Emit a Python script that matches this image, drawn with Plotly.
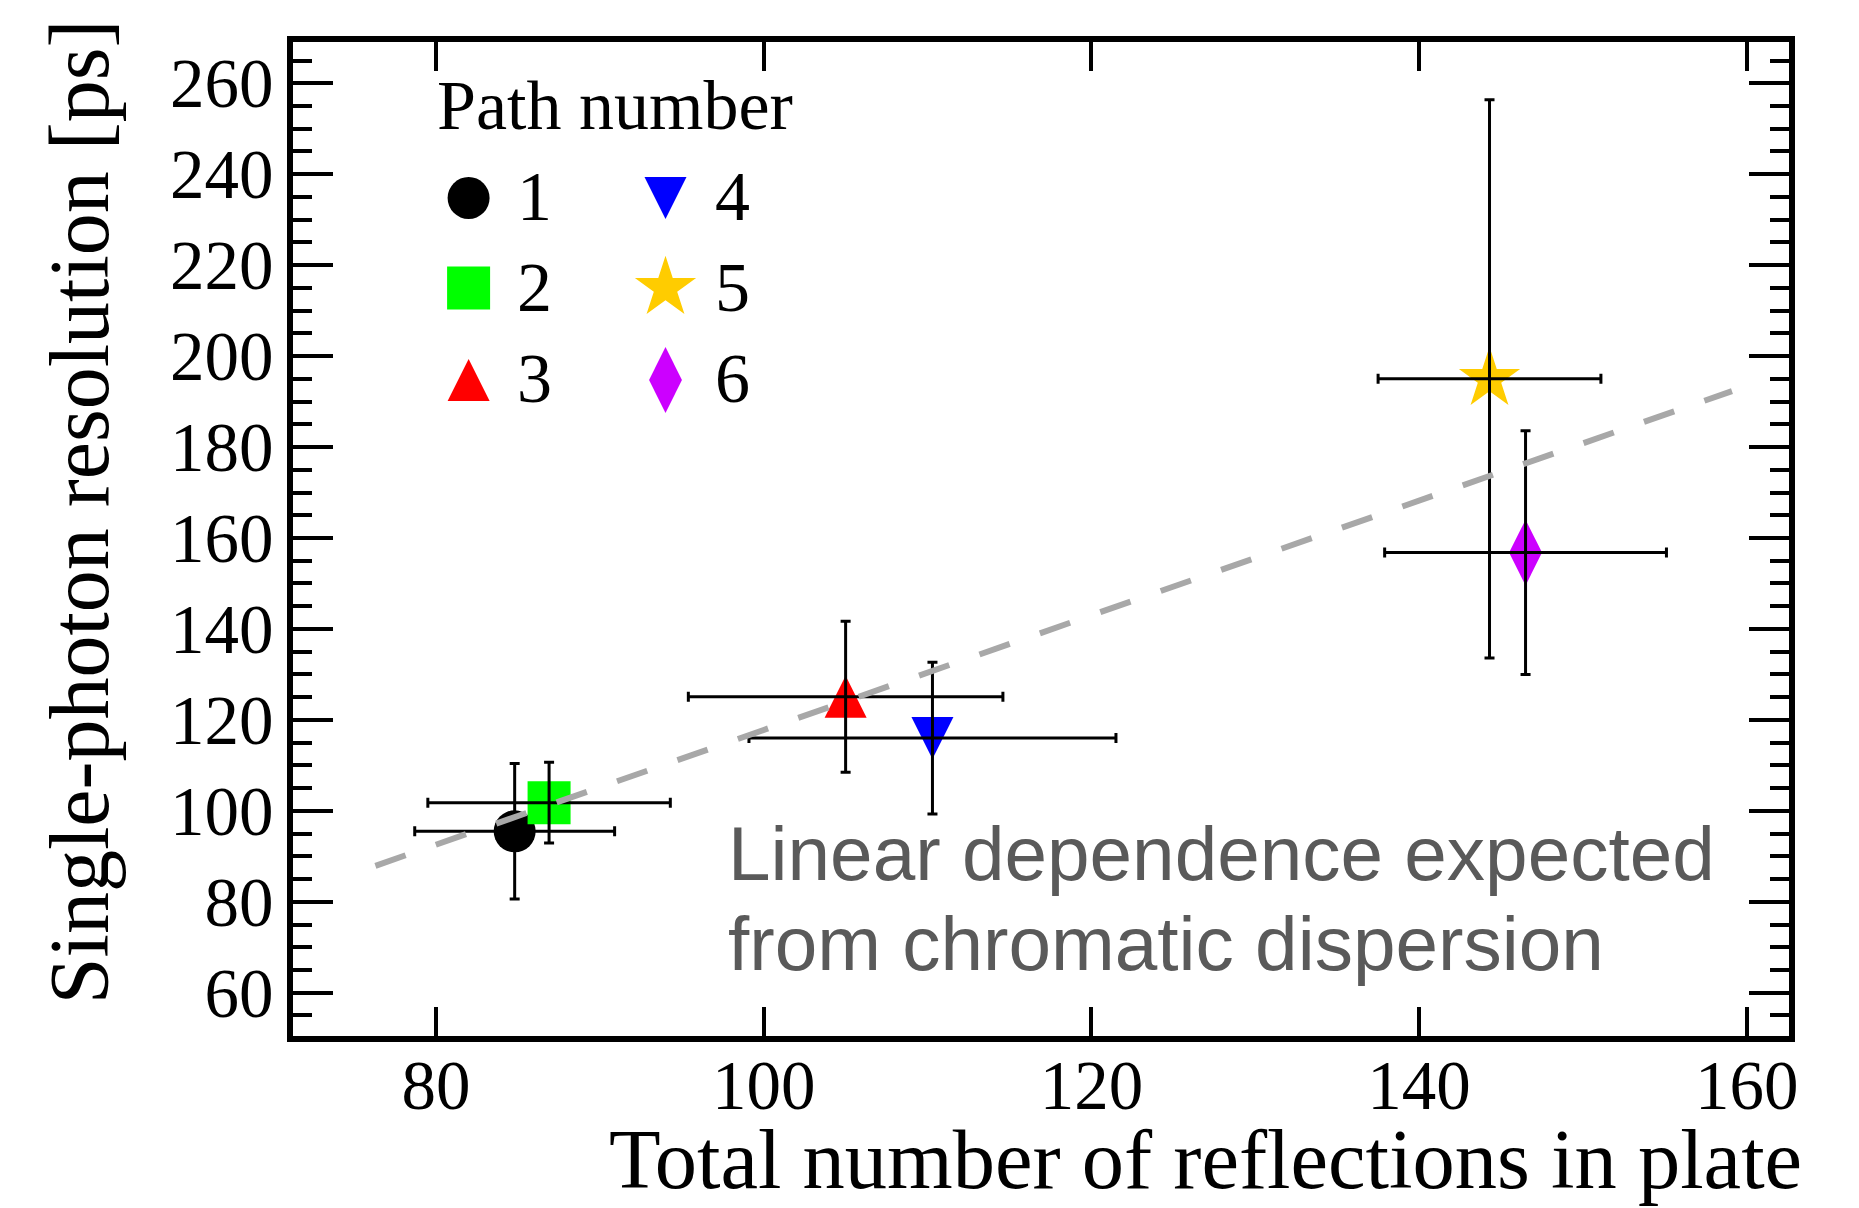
import plotly.graph_objects as go

# ---- measured values -------------------------------------------------------
path_labels = ["1", "2", "3", "4", "5", "6"]
n_reflections = [84.8, 86.9, 105.0, 110.3, 144.3, 146.5]
n_reflections_err = [6.1, 7.4, 9.6, 11.2, 6.8, 8.6]
resolution_ps = [95.5, 101.8, 125.1, 116.0, 195.0, 156.8]
resolution_err = [14.9, 8.9, 16.6, 16.7, 61.4, 26.8]

# expected linear trend (chromatic dispersion), end points
trend_x = [76.3, 159.1]
trend_y = [87.9, 192.3]

x_ticks = [80, 100, 120, 140, 160]
y_ticks = [60, 80, 100, 120, 140, 160, 180, 200, 220, 240, 260]

# ---- styling ---------------------------------------------------------------
W, H = 1859, 1208
ML, MR, MT, MB = 293, 70, 42, 172
PW, PH = W - ML - MR, H - MT - MB

SERIF = "Liberation Serif, Times New Roman, serif"
SANS = "Liberation Sans, Helvetica, Arial, sans-serif"

# one marker style per path: symbol, colour, size, angle, standoff
styles = [
    dict(symbol="circle", color="#000000", size=42, angle=0, standoff=0),
    dict(symbol="square", color="#00ff00", size=43, angle=0, standoff=0),
    dict(symbol="arrow-down", color="#ff0000", size=42, angle=180, standoff=21),
    dict(symbol="arrow-down", color="#0000ff", size=42, angle=0, standoff=21),
    dict(symbol="star", color="#ffcc00", size=46, angle=0, standoff=0),
    dict(symbol="diamond-tall", color="#cc00ff", size=47, angle=0, standoff=0),
]


def px_x(p):
    """pixel column -> paper x"""
    return (p - ML) / PW


def px_y(p):
    """pixel row -> paper y"""
    return (H - MB - p) / PH


fig = go.Figure()

# data markers
for i, st in enumerate(styles):
    fig.add_trace(go.Scatter(
        x=[n_reflections[i]], y=[resolution_ps[i]],
        mode="markers",
        marker=dict(symbol=st["symbol"], color=st["color"], size=st["size"],
                    angle=st["angle"], standoff=st["standoff"],
                    line=dict(width=0)),
        name=path_labels[i], hoverinfo="skip",
    ))

# error bars drawn above the markers
fig.add_trace(go.Scatter(
    x=n_reflections, y=resolution_ps, mode="markers",
    marker=dict(color="rgba(0,0,0,0)", size=1),
    error_x=dict(type="data", array=n_reflections_err, color="black",
                 thickness=3, width=5),
    error_y=dict(type="data", array=resolution_err, color="black",
                 thickness=3, width=5),
    hoverinfo="skip",
))

# linear trend
fig.add_trace(go.Scatter(
    x=trend_x, y=trend_y, mode="lines",
    line=dict(color="#a8a8a8", width=6, dash="32px,32px"),
    hoverinfo="skip",
))

# legend block, drawn on a hidden overlay frame (0..1 over the plot area)
legend_cols = [468.6, 665.5]
legend_rows = [198, 288, 380]
label_left = [516, 714]
for i, st in enumerate(styles):
    c, r = divmod(i, 3)
    fig.add_trace(go.Scatter(
        x=[px_x(legend_cols[c])], y=[px_y(legend_rows[r])],
        xaxis="x2", yaxis="y2", mode="markers",
        marker=dict(symbol=st["symbol"], color=st["color"], size=st["size"],
                    angle=st["angle"], standoff=st["standoff"],
                    line=dict(width=0)),
        hoverinfo="skip",
    ))
    fig.add_annotation(
        text=path_labels[i], xref="paper", yref="paper",
        x=px_x(label_left[c]), y=px_y(legend_rows[r] - 1),
        xanchor="left", yanchor="middle", showarrow=False, borderpad=0,
        font=dict(family=SERIF, size=70, color="black"),
    )

fig.add_annotation(
    text="Path number", xref="paper", yref="paper",
    x=px_x(436), y=px_y(129 - 0.3375 * 70),
    xanchor="left", yanchor="middle", showarrow=False, borderpad=0,
    font=dict(family=SERIF, size=70, color="black"),
)

# note on the expected dependence
for line_text, baseline in [("Linear dependence expected", 880),
                            ("from chromatic dispersion", 970)]:
    fig.add_annotation(
        text=line_text, xref="paper", yref="paper",
        x=px_x(727), y=px_y(baseline - 0.3465 * 76.5),
        xanchor="left", yanchor="middle", showarrow=False, borderpad=0,
        font=dict(family=SANS, size=76.5, color="#5a5a5a"),
    )

# axis titles (end-aligned); x title sits on the bottom edge of the page
fig.add_annotation(
    text="Total number of reflections in plate", xref="paper", yref="paper",
    x=px_x(1803), y=px_y(1207),
    xanchor="right", yanchor="bottom", showarrow=False, borderpad=0,
    font=dict(family=SERIF, size=84.5, color="black"),
)
fig.add_annotation(
    text="Single-photon resolution [ps]", xref="paper", yref="paper",
    x=px_x(108 - 0.3375 * 84), y=px_y(18),
    xanchor="center", yanchor="top", textangle=-90, showarrow=False,
    borderpad=0,
    font=dict(family=SERIF, size=84, color="black"),
)

axis_common = dict(
    showline=True, linewidth=5.5, linecolor="black", mirror="allticks",
    ticks="inside", tickcolor="black", tickwidth=4,
    showgrid=False, zeroline=False,
    tickfont=dict(family=SERIF, size=69, color="black"),
)

fig.update_layout(
    width=W, height=H,
    margin=dict(l=ML, r=MR, t=MT, b=MB, pad=0),
    plot_bgcolor="white", paper_bgcolor="white",
    showlegend=False,
    xaxis=dict(range=[71.27, 162.58], tickvals=x_ticks, ticklen=29,
               ticklabelstandoff=-16, **axis_common),
    yaxis=dict(range=[50.48, 269.08], tickvals=y_ticks, ticklen=40,
               minor=dict(ticks="inside", ticklen=19, tickwidth=4,
                          tickcolor="black", dtick=5, tick0=0,
                          showgrid=False),
               **axis_common),
    xaxis2=dict(overlaying="x", range=[0, 1], visible=False),
    yaxis2=dict(overlaying="y", range=[0, 1], visible=False),
)

fig.write_html("out.html")
